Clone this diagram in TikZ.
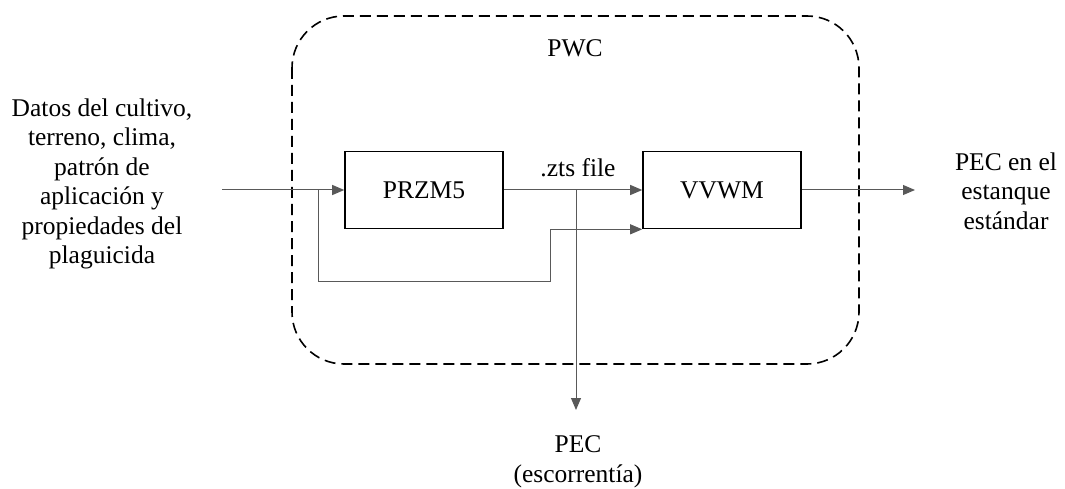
\documentclass[tikz,border=0pt]{standalone}
\usepackage{fontspec}
\setmainfont{Liberation Serif}
\usetikzlibrary{arrows.meta}

\tikzset{
  block/.style={draw=black, line width=1.6pt, minimum width=158pt, minimum height=77pt,
    inner sep=0pt, font=\fontsize{25.5}{29.5}\selectfont},
  txt/.style={align=center, inner sep=0pt, font=\fontsize{25.5}{29.5}\selectfont},
  link/.style={draw=black!65, line width=1pt},
  arr/.style={link, -{Triangle[length=12pt,width=10pt]}},
}

\begin{document}
\begin{tikzpicture}[x=1pt,y=-1pt]
    \useasboundingbox (0,0) rectangle (1065,489);

    % PWC frame
    \draw[dash pattern=on 11pt off 6pt, line width=1.6pt, rounded corners=52pt] (292,16) rectangle (859,364);
    \node[txt] (pwc) at (575,48) {PWC};

    % models
    \node[block] (przm) at (424,190) {PRZM5};
    \node[block] (vvwm) at (722,190) {VVWM};

    % texts
    \node[txt] (datos) at (102,184) {Datos del cultivo,\\terreno, clima,\\patrón de\\aplicación y\\propiedades del\\plaguicida};
    \node[txt] (pecout) at (1006,191) {PEC en el\\estanque\\estándar};
    \node[txt] (pecrun) at (578,462) {PEC\\(escorrentía)};
    \node[txt, anchor=base] (zts) at (578,177) {.zts file};

    % points
    \coordinate (in) at (222,190);
    \coordinate (split) at (318,190);
    \coordinate (low) at (318,281);
    \coordinate (up) at (550,281);
    \coordinate (tap) at (576,190);
    \coordinate (down) at (576,410);
    \coordinate (out) at (915,190);

    % connectors
    \draw[arr] (in) -- (przm.west);
    \draw[arr] (split) -- (low) -- (up) |- (vvwm.south west);
    \draw[arr] (przm.east) -- (vvwm.west);
    \draw[arr] (tap) -- (down);
    \draw[arr] (vvwm.east) -- (out);

\end{tikzpicture}
\end{document}
